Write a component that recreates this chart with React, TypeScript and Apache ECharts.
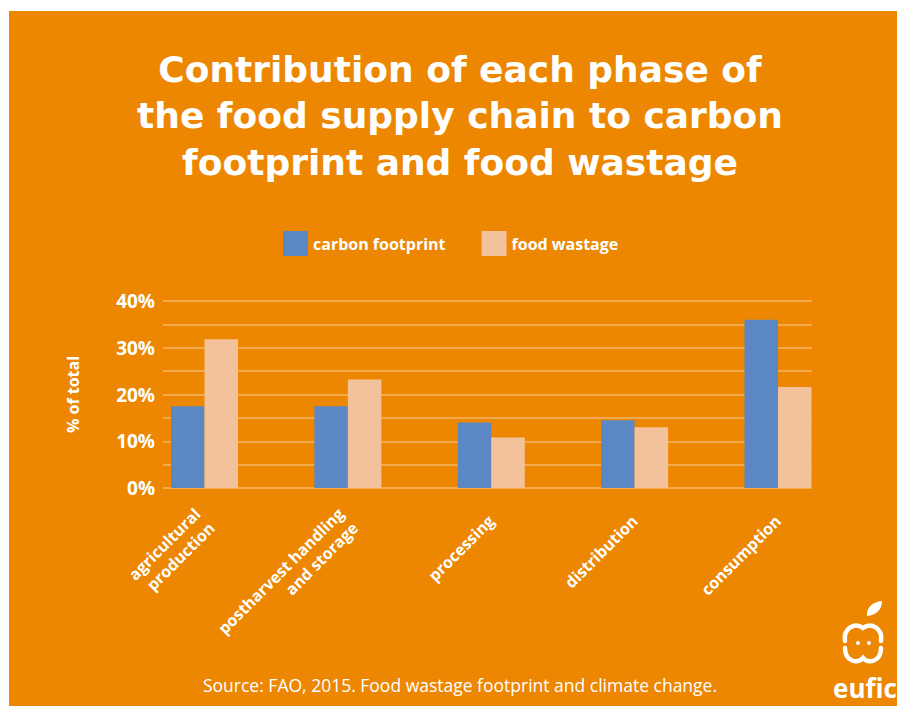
import React, { useEffect, useRef } from "react";
import * as echarts from "echarts";

const categories = [
  "agricultural\nproduction",
  "postharvest handling\nand storage",
  "processing",
  "distribution",
  "consumption",
];
const carbonFootprint = [17.5, 17.5, 14.0, 14.5, 36.0];
const foodWastage = [31.8, 23.2, 10.8, 13.0, 21.6];
const seriesNames = ["carbon footprint", "food wastage"];
const titleText = "Contribution of each phase of\nthe food supply chain to carbon\nfootprint and food wastage";
const sourceText = "Source: FAO, 2015. Food wastage footprint and climate change.";

const ORANGE = "#ED8702";
const BLUE = "#5C87C5";
const PEACH = "#F3C29A";
const FONT = "'Open Sans', Lato, sans-serif";
const TITLE_FONT = "'DejaVu Sans', 'Open Sans', sans-serif";

const faceD =
  "M 845 641 C 843 628 855 622 863 628 C 871 622 883 628 881 641 " +
  "M 845 648 C 845 662 858 664 863 658 C 868 664 881 662 881 648";
const leafD = "M 867 616 C 866 608 872 602 882 601 C 882 610 876 615 867 616 Z";

let registered = false;
function registerShapes() {
  if (registered) return;
  registered = true;
  echarts.graphic.registerShape("euficFace", echarts.graphic.extendPath(faceD, {}));
  echarts.graphic.registerShape("euficLeaf", echarts.graphic.extendPath(leafD, {}));
}

export default function App() {
  const ref = useRef<HTMLDivElement>(null);
  useEffect(() => {
    if (!ref.current) return;
    registerShapes();
    const chart = echarts.init(ref.current, undefined, { renderer: "svg" });
    chart.setOption({
      animation: false,
      backgroundColor: ORANGE,
      title: {
        text: titleText,
        left: 451,
        top: 35,
        padding: 0,
        textAlign: "center",
        textStyle: {
          color: "#fff",
          fontSize: 36,
          lineHeight: 46.5,
          fontWeight: "bold",
          fontFamily: TITLE_FONT,
        },
      },
      legend: {
        data: seriesNames,
        left: 269,
        top: 215,
        icon: "rect",
        itemWidth: 25,
        itemHeight: 25,
        itemGap: 36,
        textStyle: { color: "#fff", fontSize: 16, fontWeight: "bold", fontFamily: FONT },
      },
      grid: [
        { left: 123.85, right: 47.35, top: 290, bottom: 218 },
        { left: 154, right: 85, top: 290, bottom: 218 },
      ],
      xAxis: [
        {
          type: "category",
          gridIndex: 0,
          data: categories,
          axisLine: { show: false },
          axisTick: { show: false },
          axisLabel: {
            interval: 0,
            rotate: 45,
            margin: 30,
            color: "#fff",
            fontSize: 16,
            lineHeight: 20,
            fontWeight: "bold",
            fontFamily: FONT,
          },
        },
        { type: "category", gridIndex: 1, data: categories, show: false },
      ],
      yAxis: [
        { type: "value", gridIndex: 0, min: 0, max: 40, show: false },
        {
          type: "value",
          gridIndex: 1,
          min: 0,
          max: 40,
          interval: 5,
          name: "% of total",
          nameLocation: "middle",
          nameGap: 82,
          nameRotate: 90,
          nameTextStyle: { color: "#fff", fontSize: 16, fontWeight: "bold", fontFamily: FONT },
          axisLine: { show: false },
          axisTick: { show: false },
          axisLabel: {
            margin: 8,
            color: "#fff",
            fontSize: 19,
            fontWeight: "bold",
            fontFamily: FONT,
            formatter: (v: number) => (v % 10 === 0 ? v + "%" : ""),
          },
          splitLine: { show: true, lineStyle: { color: "rgba(255,255,255,0.4)", width: 1.5 } },
        },
      ],
      series: [
        {
          name: seriesNames[0],
          type: "bar",
          xAxisIndex: 0,
          yAxisIndex: 0,
          data: carbonFootprint,
          barWidth: 33.5,
          barGap: "0%",
          itemStyle: { color: BLUE },
        },
        {
          name: seriesNames[1],
          type: "bar",
          xAxisIndex: 0,
          yAxisIndex: 0,
          data: foodWastage,
          barWidth: 33.5,
          barGap: "0%",
          itemStyle: { color: PEACH },
        },
      ],
      graphic: [
        {
          type: "text",
          x: 451,
          y: 674,
          style: {
            text: sourceText,
            fill: "#fff",
            fontSize: 17.5,
            fontFamily: FONT,
            textAlign: "center",
            textVerticalAlign: "middle",
          },
        },
        {
          type: "text",
          x: 856,
          y: 677,
          style: {
            text: "eufic",
            fill: "#fff",
            fontSize: 26,
            fontWeight: "bold",
            fontFamily: FONT,
            textAlign: "center",
            textVerticalAlign: "middle",
          },
        },
        {
          type: "euficFace",
          x: -9,
          y: -11,
          style: { fill: "none", stroke: "#fff", lineWidth: 4.5, lineCap: "round" },
        },
        {
          type: "euficLeaf",
          x: -9,
          y: -11,
          style: { fill: "#fff" },
        },
        { type: "circle", shape: { cx: 849, cy: 632, r: 2 }, style: { fill: "#fff" } },
        { type: "circle", shape: { cx: 860, cy: 632, r: 2 }, style: { fill: "#fff" } },
      ],
    });
    return () => chart.dispose();
  }, []);
  return (
    <div style={{ position: "absolute", left: 0, top: 0, width: 897, height: 706, background: "#fff" }}>
      <div ref={ref} style={{ position: "absolute", left: 9, top: 11, width: 888, height: 695 }} />
    </div>
  );
}
